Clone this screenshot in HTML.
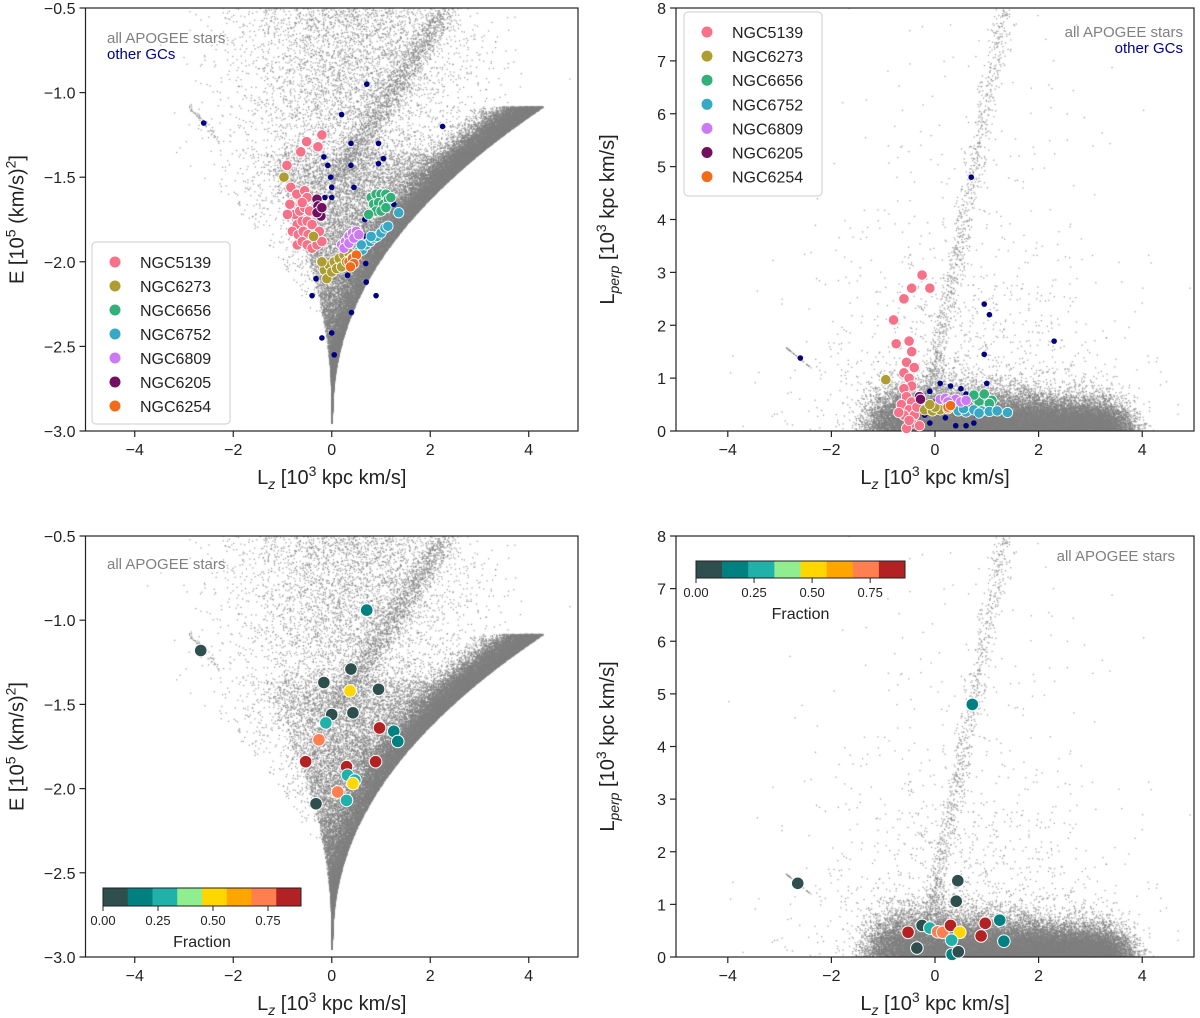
<!DOCTYPE html>
<html><head><meta charset="utf-8">
<style>
html,body{margin:0;padding:0;background:#fff;}
#wrap{position:relative;width:1200px;height:1018px;overflow:hidden;font-family:"Liberation Sans",sans-serif;}
canvas,svg{position:absolute;left:0;top:0;}
</style></head>
<body>
<div id="wrap">
<canvas id="bg" width="1200" height="1018"></canvas>
<svg id="fig" width="1200" height="1018" xmlns="http://www.w3.org/2000/svg"></svg>
</div>
<script>
// ---------- data ----------
const gcNames = ["NGC5139","NGC6273","NGC6656","NGC6752","NGC6809","NGC6205","NGC6254"];
const gcColors = ["#f77189","#ae9d31","#33b07a","#38a9c5","#cc7af4","#6f1060","#f26b1a"];
const elzNGC5139 = [[-0.2,-1.25],[-0.51,-1.29],[-0.28,-1.32],[-0.63,-1.35],[-0.91,-1.43],[-0.83,-1.56],[-0.71,-1.6],[-0.55,-1.58],[-0.75,-1.72],[-0.65,-1.7],[-0.55,-1.68],[-0.45,-1.7],[-0.7,-1.78],[-0.6,-1.76],[-0.5,-1.76],[-0.4,-1.78],[-0.8,-1.82],[-0.68,-1.84],[-0.58,-1.82],[-0.48,-1.84],[-0.38,-1.86],[-0.7,-1.9],[-0.6,-1.88],[-0.5,-1.9],[-0.4,-1.92],[-0.3,-1.9],[-0.2,-1.88],[-0.25,-1.82],[-0.9,-1.72],[-0.85,-1.66],[-0.5,-1.62],[-0.6,-1.65]];
const elzNGC6273 = [[-0.97,-1.5],[-0.37,-1.85],[-0.15,-2.05],[-0.05,-2.02],[0.05,-2.0],[0.15,-1.98],[0.25,-1.96],[0.35,-1.95],[-0.1,-2.1],[0.0,-2.06],[0.1,-2.04],[0.2,-2.03],[0.3,-2.0],[-0.2,-2.0],[0.4,-1.98]];
const elzNGC6656 = [[0.8,-1.62],[0.9,-1.6],[1.0,-1.6],[1.1,-1.6],[0.85,-1.66],[0.95,-1.65],[1.05,-1.66],[1.15,-1.63],[0.9,-1.7],[1.0,-1.7],[1.1,-1.68],[0.75,-1.72],[1.2,-1.62]];
const elzNGC6752 = [[0.45,-1.97],[0.55,-1.94],[0.62,-1.93],[0.7,-1.9],[0.78,-1.88],[0.85,-1.86],[0.92,-1.85],[1.0,-1.83],[1.08,-1.8],[1.14,-1.79],[1.36,-1.71],[0.6,-1.9],[0.8,-1.85]];
const elzNGC6809 = [[0.2,-1.9],[0.28,-1.88],[0.35,-1.85],[0.42,-1.83],[0.5,-1.82],[0.25,-1.92],[0.35,-1.89],[0.45,-1.86],[0.55,-1.84]];
const elzNGC6205 = [[-0.3,-1.63],[-0.28,-1.67],[-0.25,-1.7],[-0.22,-1.73],[-0.3,-1.71],[-0.2,-1.68]];
const elzNGC6254 = [[0.35,-2.0],[0.42,-1.98],[0.5,-1.96],[0.45,-2.01],[0.38,-2.03]];
const elzOther = [[-2.6,-1.18],[0.71,-0.95],[0.2,-1.13],[2.25,-1.2],[0.39,-1.3],[0.95,-1.3],[-0.16,-1.38],[0.95,-1.42],[1.05,-1.39],[0.39,-1.43],[-0.08,-1.43],[-0.02,-1.5],[0,-1.56],[0.45,-1.56],[-0.14,-1.62],[0,-1.62],[1.26,-1.66],[0.67,-1.75],[0.69,-1.85],[0.32,-1.93],[0.69,-2.01],[0.32,-2.08],[-0.32,-2.1],[-0.2,-2.45],[0.0,-2.42],[0.05,-2.55],[0.4,-2.3],[0.9,-2.2],[-0.4,-2.2],[0.7,-2.12]];
const lpNGC5139 = [[-0.25,2.95],[-0.1,2.7],[-0.45,2.7],[-0.6,2.5],[-0.8,2.1],[-0.75,1.65],[-0.5,1.7],[-0.45,1.5],[-0.55,1.3],[-0.6,1.1],[-0.5,1.0],[-0.45,0.85],[-0.6,0.8],[-0.55,0.65],[-0.45,0.55],[-0.65,0.5],[-0.5,0.4],[-0.4,0.3],[-0.6,0.3],[-0.45,0.15],[-0.3,0.1],[-0.55,0.05],[-0.35,0.45],[-0.7,0.35],[-0.4,1.2],[-0.5,0.2]];
const lpNGC6273 = [[-0.95,0.97],[-0.2,0.4],[-0.05,0.38],[0.1,0.4],[0.25,0.42],[0.4,0.45],[0.5,0.42],[0.0,0.45],[-0.1,0.5]];
const lpNGC6656 = [[0.8,0.6],[0.9,0.65],[1.0,0.62],[1.1,0.58],[0.85,0.55],[0.95,0.7],[1.05,0.52],[0.75,0.68]];
const lpNGC6752 = [[0.45,0.38],[0.6,0.36],[0.75,0.4],[0.9,0.38],[1.05,0.37],[1.2,0.38],[1.4,0.35],[0.55,0.42],[0.85,0.34]];
const lpNGC6809 = [[0.1,0.6],[0.2,0.62],[0.3,0.58],[0.4,0.6],[0.5,0.55],[0.6,0.58],[0.25,0.55]];
const lpNGC6205 = [[-0.3,0.65],[-0.28,0.6]];
const lpNGC6254 = [[0.25,0.45],[0.3,0.48]];
const lpOther = [[0.7,4.8],[0.95,2.4],[1.05,2.2],[2.3,1.7],[-2.6,1.38],[0.95,1.45],[0.1,0.9],[0.3,0.85],[0.5,0.8],[0.6,0.7],[-0.1,0.75],[0.2,0.25],[0.4,0.1],[0.6,0.1],[-0.1,0.15],[0.0,0.55],[0.8,0.3],[0.2,0.5],[-0.2,0.3],[1.0,0.9],[0.75,0.15]];
const fracElz = [[-2.66,-1.18,0.05],[0.71,-0.94,0.15],[-0.16,-1.37,0.05],[0.39,-1.29,0.05],[0.37,-1.42,0.5],[0.95,-1.41,0.05],[0,-1.56,0.05],[0.43,-1.55,0.05],[-0.12,-1.61,0.25],[1.26,-1.66,0.15],[1.34,-1.72,0.15],[0.97,-1.64,0.85],[-0.26,-1.71,0.7],[-0.53,-1.84,0.85],[0.89,-1.84,0.85],[0.3,-1.87,0.85],[0.32,-1.92,0.25],[0.47,-1.95,0.25],[0.43,-1.97,0.5],[0.12,-2.02,0.7],[0.3,-2.07,0.25],[-0.32,-2.09,0.05]];
const fracLp = [[-2.65,1.4,0.05],[0.72,4.8,0.15],[0.44,1.45,0.05],[0.41,1.06,0.05],[-0.52,0.47,0.85],[-0.25,0.6,0.05],[-0.1,0.55,0.25],[0.05,0.48,0.7],[0.15,0.47,0.7],[0.3,0.6,0.85],[0.48,0.47,0.5],[0.32,0.32,0.25],[-0.35,0.17,0.05],[0.33,0.05,0.15],[0.45,0.1,0.05],[0.89,0.4,0.85],[0.97,0.64,0.85],[1.25,0.7,0.15],[1.33,0.3,0.15]];
const cbColors = ["#2f4f4f","#008080","#20b2aa","#90ee90","#ffd700","#ffa500","#ff7f50","#b22222"];
const cbTicks = [0,0.25,0.5,0.75];
const cbMax = 0.9;
const xTicks = [-4,-2,0,2,4];
const eTicks = [-3.0,-2.5,-2.0,-1.5,-1.0,-0.5];
const lpTicks = [0,1,2,3,4,5,6,7,8];

const panels = [
 {id:"top-left", x0:85.5,x1:578,y0:8,y1:431,yd:[-0.5,-3.0],kind:"E"},
 {id:"top-right",x0:676,x1:1194,y0:8,y1:431,yd:[8,0],kind:"L"},
 {id:"bottom-left",x0:85.5,x1:578,y0:536,y1:957,yd:[-0.5,-3.0],kind:"E"},
 {id:"bottom-right",x0:676,x1:1194,y0:536,y1:957,yd:[8,0],kind:"L"}
];
panels.forEach(p=>{
 p.sx=v=>p.x0+(v+5)/10*(p.x1-p.x0);
 p.sy=v=>p.y0+(p.yd[0]-v)/(p.yd[0]-p.yd[1])*(p.y1-p.y0);
});

// ---------- background cloud ----------
let seed=12345;
function rnd(){seed|=0;seed=seed+0x6D2B79F5|0;let t=Math.imul(seed^seed>>>15,1|seed);t=t+Math.imul(t^t>>>7,61|t)^t;return((t^t>>>14)>>>0)/4294967296;}
function gauss(){return Math.sqrt(-2*Math.log(rnd()+1e-9))*Math.cos(2*Math.PI*rnd());}
const cv=document.getElementById('bg'),ctx=cv.getContext('2d');
function Ec(L){return -2.95+0.97*Math.pow(Math.abs(L),0.45);}
function Lmax(E){return Math.pow(Math.max(E+2.95,0)/0.97,1/0.45);}
function Lleft(E){return Math.pow(Math.max(E+2.95,0)/1.05,1/0.45);}
function cloudE(p){
 ctx.save();ctx.beginPath();ctx.rect(p.x0,p.y0,p.x1-p.x0,p.y1-p.y0);ctx.clip();
 ctx.fillStyle="rgba(128,128,128,0.8)";
 const dot=(lz,e)=>ctx.fillRect(p.sx(lz),p.sy(e),1.2,1.2);
 seed=777;
 for(let i=0;i<26000;i++){ // disk band hugging circular curve
  const L=4.45*Math.pow(rnd(),0.75);
  const E=Ec(L)+Math.abs(gauss())*(0.08+0.12*Math.exp(-L/1.2));
  if(E<-1.08) dot(L,E);
 }
 for(let i=0;i<14000;i++){ // dense inner wedge, fading upward
  const E=-2.95+1.6*Math.pow(rnd(),1.1);
  const a=-0.6*Lleft(E), b=Lmax(E);
  dot(a+(b-a)*Math.pow(rnd(),0.8),E);
 }
 for(let i=0;i<6500;i++){ // halo
  const E=-2.3+1.85*Math.pow(rnd(),0.7); const lz=0.4+gauss()*1.2;
  if(lz<Lmax(E)-0.1&&lz>-1.3*Lleft(E)) dot(lz,E);
 }
 for(let i=0;i<1600;i++){ // rising streak
  const t=rnd(); dot(0.1+2.2*t+gauss()*0.15,-1.5+1.0*t+gauss()*0.04);
 }
 for(let i=0;i<60;i++){ const t=rnd(); dot(-2.9+0.6*t,-1.08-0.2*t+gauss()*0.01);}
 ctx.restore();
}
function cloudL(p){
 ctx.save();ctx.beginPath();ctx.rect(p.x0,p.y0,p.x1-p.x0,p.y1-p.y0);ctx.clip();
 ctx.fillStyle="rgba(128,128,128,0.8)";
 const dot=(lz,l)=>ctx.fillRect(p.sx(lz),p.sy(l),1.2,1.2);
 seed=999;
 for(let i=0;i<28000;i++){
  let lz=-1.1+4.6*Math.pow(rnd(),0.9)+gauss()*0.25;
  const l=Math.abs(gauss())*(0.36-0.035*Math.max(lz,0))+ (rnd()<0.1?Math.abs(gauss())*0.3:0);
  dot(lz,l);
 }
 for(let i=0;i<900;i++){
  const l=0.8+7.2*Math.pow(rnd(),1.3); dot(-0.25+0.2*l+gauss()*0.1,l);
 }
 for(let i=0;i<1500;i++){
  const l=-Math.log(rnd()+1e-9)*1.6; dot(0.5+gauss()*1.5,l);
 }
 for(let i=0;i<40;i++){ const t=rnd(); dot(-2.9+0.5*t,1.6-0.4*t);}
 ctx.restore();
}
panels.forEach(p=>{ if(p.kind==="E") cloudE(p); else cloudL(p); });

// ---------- svg ----------
const NS="http://www.w3.org/2000/svg", svg=document.getElementById('fig');
function el(tag,attrs,parent,text){const e=document.createElementNS(NS,tag);for(const k in attrs)e.setAttribute(k,attrs[k]);if(text!==undefined)e.textContent=text;(parent||svg).appendChild(e);return e;}
const fmt=v=>(v<0?"\u2212":"")+Math.abs(v).toFixed(1);

panels.forEach(p=>{
 const g=el('g',{});
 
 
 const fr=el('rect',{x:p.x0,y:p.y0,width:p.x1-p.x0,height:p.y1-p.y0,fill:"none",stroke:"#222","stroke-width":1.2},g);
 
 
 xTicks.forEach(v=>{
  const x=p.sx(v);
  el('line',{x1:x,x2:x,y1:p.y1,y2:p.y1+6,stroke:"#222","stroke-width":1.2},g);
  const t=el('text',{x:x,y:p.y1+24,"text-anchor":"middle","font-size":16,fill:"#222"},g,v<0?"\u2212"+Math.abs(v):String(v));
  
  
 });
 const yt=p.kind==="E"?eTicks:lpTicks;
 yt.forEach(v=>{
  const y=p.sy(v);
  el('line',{x1:p.x0-6,x2:p.x0,y1:y,y2:y,stroke:"#222","stroke-width":1.2},g);
  const t=el('text',{x:p.x0-10,y:y+6,"text-anchor":"end","font-size":16,fill:"#222"},g,p.kind==="E"?fmt(v):String(v));
  
  
 });
 const xt=el('text',{x:(p.x0+p.x1)/2,y:p.y1+53,"text-anchor":"middle","font-size":20,fill:"#222"},g);
 
 
 xt.innerHTML='L<tspan font-size="14" font-style="italic" dy="5">z</tspan><tspan dy="-5"> [10</tspan><tspan font-size="14" dy="-8">3</tspan><tspan dy="8"> kpc km/s]</tspan>';
 const cy=(p.y0+p.y1)/2, cx=p.x0-62;
 const ytl=el('text',{x:cx,y:cy,"text-anchor":"middle","font-size":20,fill:"#222",transform:`rotate(-90 ${cx} ${cy})`},g);
 
 
 if(p.kind==="E") ytl.innerHTML='E [10<tspan font-size="14" dy="-8">5</tspan><tspan dy="8"> (km/s)</tspan><tspan font-size="14" dy="-8">2</tspan><tspan dy="8">]</tspan>';
 else ytl.innerHTML='L<tspan font-size="14" font-style="italic" dy="5">perp</tspan><tspan dy="-5"> [10</tspan><tspan font-size="14" dy="-8">3</tspan><tspan dy="8"> kpc km/s]</tspan>';
});

function note(x,y,txt,col,anchor,name){const t=el('text',{x:x,y:y,"font-size":15,fill:col,"text-anchor":anchor||"start"},svg,txt);}
note(107,43,"all APOGEE stars","#808080","start","apogee-label");
note(107,59,"other GCs","#00008b","start","other-gcs-label");
note(1183,37,"all APOGEE stars","#808080","end","apogee-label");
note(1183,53,"other GCs","#00008b","end","other-gcs-label");
note(107,569,"all APOGEE stars","#808080","start","apogee-label");
note(1175,561,"all APOGEE stars","#808080","end","apogee-label");

const P=panels;
function clipG(p){const g=el('g',{});return g;}
[[P[0],elzOther],[P[1],lpOther]].forEach(([p,arr])=>{
 const g=clipG(p);
 arr.forEach(d=>{const c=el('circle',{cx:p.sx(d[0]),cy:p.sy(d[1]),r:2.8,fill:"#000080"},g);});
});
const elzSets=[elzNGC5139,elzNGC6273,elzNGC6656,elzNGC6752,elzNGC6809,elzNGC6205,elzNGC6254];
const lpSets=[lpNGC5139,lpNGC6273,lpNGC6656,lpNGC6752,lpNGC6809,lpNGC6205,lpNGC6254];
[[P[0],elzSets],[P[1],lpSets]].forEach(([p,sets])=>{
 const g=clipG(p);
 sets.forEach((arr,i)=>arr.forEach(d=>{
  const c=el('circle',{cx:p.sx(d[0]),cy:p.sy(d[1]),r:5.2,fill:gcColors[i],stroke:"#fff","stroke-width":0.8},g);
  
  
 }));
});
function legend(x,y,w,h,step){
 const g=el('g',{});
 
 
 el('rect',{x:x,y:y,width:w,height:h,rx:4,fill:"#fff","fill-opacity":0.85,stroke:"#ccc"},g);
 gcNames.forEach((n,i)=>{
  const e=el('g',{},g);
  
  
  const yy=y+20+i*step;
  el('circle',{cx:x+23,cy:yy,r:5.5,fill:gcColors[i]},e);
  el('text',{x:x+48,y:yy+6,"font-size":16,fill:"#222"},e,n);
 });
}
legend(92,242,138,182,24);
legend(684,12,138,184,24.1);
const cbColor=f=>cbColors[Math.min(cbColors.length-1,Math.floor(f/cbMax*cbColors.length))];
[[P[2],fracElz],[P[3],fracLp]].forEach(([p,arr])=>{
 const g=clipG(p);
 arr.forEach(d=>{const c=el('circle',{cx:p.sx(d[0]),cy:p.sy(d[1]),r:6.3,fill:cbColor(d[2]),stroke:"#fff","stroke-width":1},g);});
});
function colorbar(x,y,w,h){
 const g=el('g',{});
 
 
 cbColors.forEach((c,i)=>el('rect',{x:x+i*w/cbColors.length,y:y,width:w/cbColors.length+0.3,height:h,fill:c},g));
 el('rect',{x:x,y:y,width:w,height:h,fill:"none",stroke:"#222","stroke-width":1},g);
 cbTicks.forEach(v=>{const tx=x+v/cbMax*w;el('line',{x1:tx,x2:tx,y1:y+h,y2:y+h+5,stroke:"#222"},g);el('text',{x:tx,y:y+h+19,"text-anchor":"middle","font-size":13,fill:"#222"},g,v.toFixed(2));});
 el('text',{x:x+w/2,y:y+h+41,"text-anchor":"middle","font-size":16,fill:"#222"},g,"Fraction");
}
colorbar(103,888,198,18);
colorbar(696,561,209,17);
</script>
</body></html>
